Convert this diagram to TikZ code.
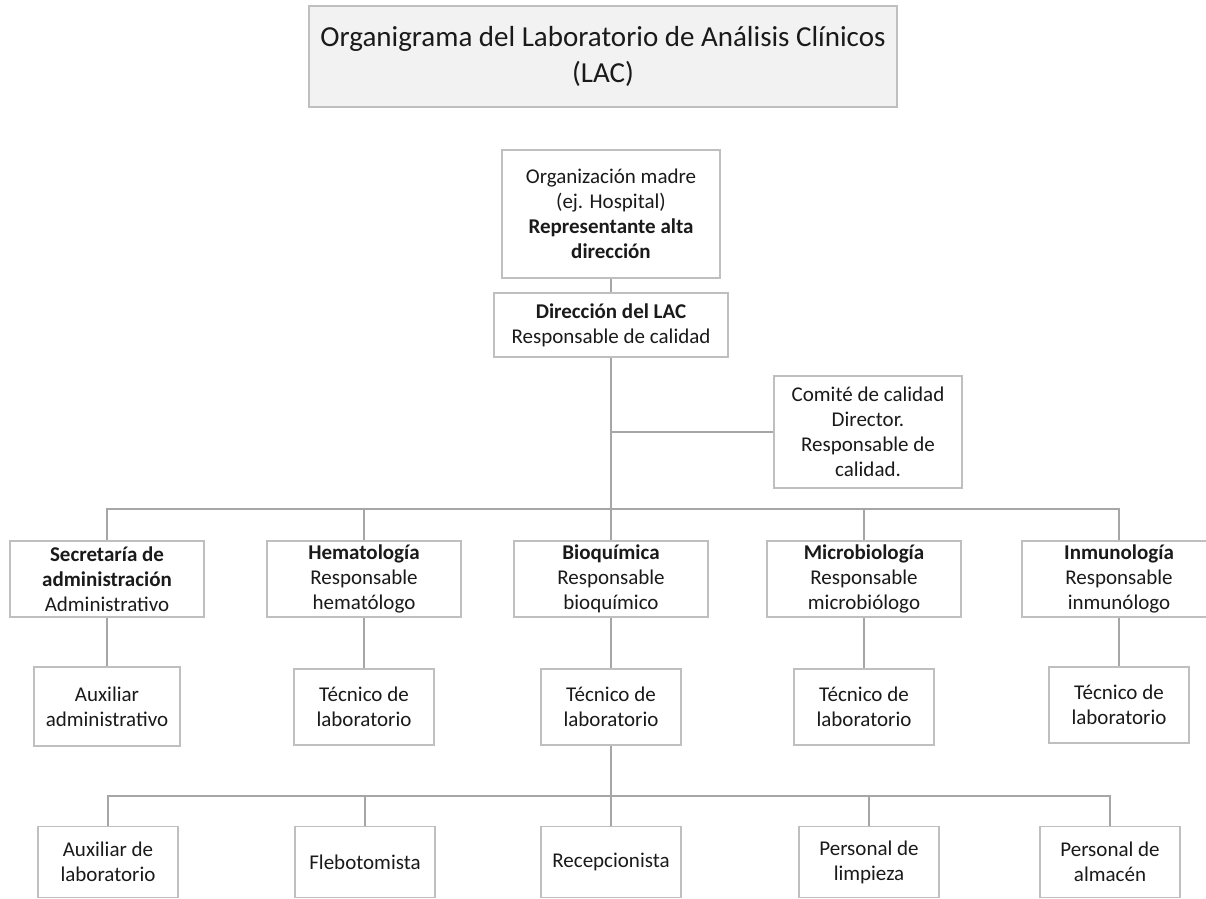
\documentclass[tikz,border=0pt]{standalone}
\usepackage{fontspec}
\setmainfont{Carlito}
\usepackage{tikz}
\usetikzlibrary{positioning,calc}
\definecolor{OrgEdge}{HTML}{BFBFBF}
\definecolor{OrgLine}{HTML}{A6A6A6}
\definecolor{OrgFill}{HTML}{F2F2F2}
\definecolor{OrgText}{HTML}{1A1A1A}
\tikzset{
  orgbox/.style={
    rectangle,
    draw=OrgEdge,
    line width=1.1pt,
    fill=white,
    align=center,
    inner sep=0pt,
    text=OrgText,
    font=\fontsize{15.75}{18.75}\selectfont,
    minimum width=105pt,
    minimum height=57pt
  },
  orgtitle/.style={orgbox,fill=OrgFill,line width=1.5pt,
    font=\fontsize{21.75}{27}\selectfont,minimum width=441pt,minimum height=75.75pt},
  orghead/.style={orgbox,minimum width=145.5pt,minimum height=57pt},
  orgstaff/.style={orgbox,minimum width=105pt,minimum height=57pt},
  orgbase/.style={orgbox,minimum width=105pt,minimum height=53.25pt},
  orgline/.style={draw=OrgLine,line width=1.5pt},
}

\begin{document}
\begin{tikzpicture}[x=0.75pt,y=-0.75pt]
  \useasboundingbox (0,0) rectangle (1206,899);

  \node[orgtitle] (title) at (603,56.5)
    {Organigrama del Laboratorio de Análisis Clínicos\\(LAC)};

  \node[orgbox,minimum width=163.5pt,minimum height=96pt] (madre) at (611,214)
    {Organización madre\\(ej. Hospital)\\\textbf{Representante alta}\\\textbf{dirección}};
  \node[orgbox,minimum width=175.5pt,minimum height=48pt] (dir) at (611,325)
    {\textbf{Dirección del LAC}\\Responsable de calidad};
  \node[orgbox,minimum width=141pt,minimum height=84pt] (comite) at (868,432)
    {Comité de calidad\\Director.\\Responsable de\\calidad.};

  \node[orghead] (secr) at (107,579)
    {\textbf{Secretaría de}\\\textbf{administración}\\Administrativo};
  \node[orghead] (hema) at (364,579)
    {\textbf{Hematología}\\Responsable\\hematólogo};
  \node[orghead] (bioq) at (611,579)
    {\textbf{Bioquímica}\\Responsable\\bioquímico};
  \node[orghead] (micro) at (864,579)
    {\textbf{Microbiología}\\Responsable\\microbiólogo};
  \node[orghead] (inmu) at (1119,579)
    {\textbf{Inmunología}\\Responsable\\inmunólogo};

  \node[orgstaff,minimum width=109.5pt,minimum height=59.25pt] (auxadm) at (107,706.5)
    {Auxiliar\\administrativo};
  \node[orgstaff] (techema) at (364,707) {Técnico de\\laboratorio};
  \node[orgstaff] (tecbioq) at (611,707) {Técnico de\\laboratorio};
  \node[orgstaff] (tecmicro) at (864,707) {Técnico de\\laboratorio};
  \node[orgstaff] (tecinmu) at (1119,705) {Técnico de\\laboratorio};

  \node[orgbase] (auxlab) at (108,862) {Auxiliar de\\laboratorio};
  \node[orgbase] (flebo) at (365,862) {Flebotomista};
  \node[orgbase] (recep) at (611,862) {Recepcionista};
  \node[orgbase] (limp) at (869,862) {Personal de\\limpieza};
  \node[orgbase] (alma) at (1110,862) {Personal de\\almacén};

  \coordinate (bus2) at (611,509);
  \coordinate (bus3) at (611,796);

  \draw[orgline] (madre) -- (dir);
  \draw[orgline] (dir) -- (bioq);
  \draw[orgline] (comite.west) -- (comite.west -| dir.south);

  \draw[orgline] (secr.north) |- (bus2) -| (inmu.north);
  \draw[orgline] (hema.north) -- (hema.north |- bus2);
  \draw[orgline] (micro.north) -- (micro.north |- bus2);

  \draw[orgline] (secr) -- (auxadm);
  \draw[orgline] (hema) -- (techema);
  \draw[orgline] (bioq) -- (tecbioq);
  \draw[orgline] (micro) -- (tecmicro);
  \draw[orgline] (inmu) -- (tecinmu);

  \draw[orgline] (tecbioq) -- (recep);
  \draw[orgline] (auxlab.north) |- (bus3) -| (alma.north);
  \draw[orgline] (flebo.north) -- (flebo.north |- bus3);
  \draw[orgline] (limp.north) -- (limp.north |- bus3);
\end{tikzpicture}
\end{document}
